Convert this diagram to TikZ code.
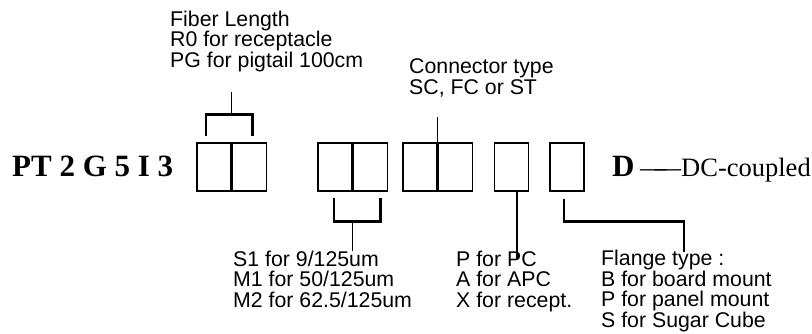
\documentclass[tikz,border=0pt]{standalone}
\usepackage{fontspec}
\setmainfont{Liberation Serif}
\newfontfamily\arialfont{Liberation Sans}
\usepackage{tikz}
\usetikzlibrary{positioning}
\definecolor{ink}{RGB}{0,0,0}

\begin{document}
\begin{tikzpicture}[x=1pt,y=-1pt,
  cell/.style={draw=ink,line width=1.4pt,minimum width=34pt,minimum height=48pt,inner sep=0pt},
  note/.style={anchor=base west,align=left,inner sep=0pt,font=\arialfont\fontsize{21.3}{20.4}\selectfont},
  brace/.style={line width=2.8pt,color=ink},
  lead/.style={line width=1.4pt,color=ink}]
  \useasboundingbox (0,0) rectangle (812,333);

  % part number and the blanks to fill
  \node[anchor=base west,inner sep=0pt,font=\bfseries\fontsize{31}{31}\selectfont] (code) at (12,176) {PT 2 G 5 I 3};
  \node[cell] (f1) at (214,167) {};
  \node[cell,right=0pt of f1] (f2) {};
  \node[cell] (m1) at (335,167) {};
  \node[cell,right=0pt of m1] (m2) {};
  \node[cell] (c1) at (420,167) {};
  \node[cell,right=0pt of c1] (c2) {};
  \node[cell] (p1) at (511.5,167) {};
  \node[cell] (t1) at (567,167) {};
  \node[anchor=base west,inner sep=0pt,font=\bfseries\fontsize{31}{31}\selectfont] (dc) at (612,176) {D};
  \node[anchor=base west,inner sep=0pt,font=\fontsize{26.5}{26.5}\selectfont] (dctext) at (640,176) {\textemdash\kern-12pt\textemdash DC-coupled};

  % explanations (base = last line)
  \node[note] (fiber) at (170,67) {Fiber Length\\R0 for receptacle\\PG for pigtail 100cm};
  \node[note] (conn) at (409,94) {Connector type\\SC, FC or ST};
  \node[note] (core) at (233,307) {S1 for 9/125um\\M1 for 50/125um\\M2 for 62.5/125um};
  \node[note] (polish) at (456,307) {P for PC\\A for APC\\X for recept.};
  \node[note] (flange) at (601,327) {Flange type :\\B for board mount\\P for panel mount\\S for Sugar Cube};

  % leaders
  \coordinate (fstem) at ([yshift=28pt]f1.north east);
  \draw[brace] ([xshift=-8pt,yshift=6pt]f1.north) |- (fstem) -| ([xshift=3pt,yshift=6pt]f2.north);
  \draw[lead] (fstem) -- ++(0,-22);

  \coordinate (mstem) at ([yshift=-30pt]m1.south east);
  \draw[brace] ([xshift=-1pt,yshift=-6pt]m1.south) |- (mstem) -| ([xshift=10pt,yshift=-6pt]m2.south);
  \draw[lead] (mstem) -- ++(0,29);

  \draw[lead] (c1.north east) -- ++(0,-25);
  \draw[lead] ([xshift=5.5pt]p1.south) -- ++(0,68);
  \draw[brace] ([xshift=-3pt,yshift=-7pt]t1.south) -- ++(0,23) -- ++(120,0) -- ++(0,30);
\end{tikzpicture}
\end{document}
